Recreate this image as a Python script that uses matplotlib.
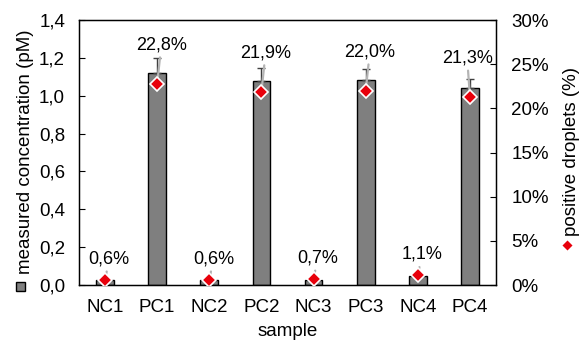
import matplotlib
matplotlib.use("Agg")
import matplotlib.pyplot as plt
from matplotlib.lines import Line2D
from matplotlib.patches import Rectangle
from matplotlib.ticker import FuncFormatter
import numpy as np

plt.rcParams['font.family'] = ['Liberation Sans', 'DejaVu Sans']

samples = ["NC1", "PC1", "NC2", "PC2", "NC3", "PC3", "NC4", "PC4"]
concentration = [0.026, 1.12, 0.026, 1.078, 0.028, 1.083, 0.05, 1.04]
conc_err = [0.005, 0.08, 0.005, 0.068, 0.005, 0.057, 0.004, 0.05]
positive_pct = [0.6, 22.8, 0.6, 21.9, 0.7, 22.0, 1.1, 21.3]
pct_labels = ["0,6%", "22,8%", "0,6%", "21,9%", "0,7%", "22,0%", "1,1%", "21,3%"]

FS = 13.5
fig = plt.figure(figsize=(5.79, 3.42), dpi=100)
ax = fig.add_axes([79/579, 1-285/342, (496-79)/579, (285-20)/342])
x = np.arange(len(samples))
ax.bar(x, concentration, width=0.34, color='#7f7f7f', edgecolor='black', linewidth=1.0, zorder=2)
ax.errorbar(x, concentration, yerr=[np.zeros(len(x)), conc_err], fmt='none',
            ecolor='#404040', elinewidth=1.0, capsize=3, capthick=1.0, zorder=3)
ax.set_ylim(0, 1.4)
ax.set_xlim(-0.5, len(samples) - 0.5)
ax.set_yticks(np.arange(0, 1.41, 0.2))
ax.yaxis.set_major_formatter(FuncFormatter(lambda v, p: f"{v:.1f}".replace('.', ',')))
ax.set_xticks(x)
ax.set_xticklabels(samples)
ax.tick_params(axis='y', direction='in', length=4, labelsize=FS, pad=10)
ax.tick_params(axis='x', length=0, labelsize=FS, pad=10)
for s in ax.spines.values():
    s.set_linewidth(1.0)
ax.set_xlabel("sample", fontsize=FS, labelpad=5)

ax2 = ax.twinx()
ax2.set_ylim(0, 30)
ax2.set_yticks(np.arange(0, 31, 5))
ax2.yaxis.set_major_formatter(FuncFormatter(lambda v, p: f"{v:.0f}%"))
ax2.tick_params(axis='y', direction='in', length=4, labelsize=FS, pad=11)
for i, (xi, yi, lab) in enumerate(zip(x, positive_pct, pct_labels)):
    off = 15 if yi < 5 else 28
    dx = 3 if i != 7 else -2
    ax2.annotate(lab, xy=(xi, yi), xytext=(dx, off), textcoords='offset points',
                 ha='center', va='center', fontsize=13, zorder=4,
                 arrowprops=dict(arrowstyle='-', color='#b4b4b4', lw=1.6,
                                 shrinkA=1, shrinkB=1))
ax2.plot(x, positive_pct, linestyle='none', marker='D', markersize=7.5,
         markerfacecolor='#e8000b', markeredgecolor='white', markeredgewidth=1.2, zorder=5)

# left y label with legend marker
fig.text(26/579, 1-152/342, "measured concentration (pM)", rotation=90, ha='center', va='center', fontsize=FS)
fig.add_artist(Rectangle((16/579, 1-291/342), 9/579, 9/342, transform=fig.transFigure,
                         facecolor='#7f7f7f', edgecolor='black', linewidth=1.0))
# right y label with legend marker
fig.text(571/579, 1-152/342, "positive droplets (%)", rotation=90, ha='center', va='center', fontsize=FS)
fig.add_artist(Line2D([567/579], [1-245/342], transform=fig.transFigure, marker='D',
                      markersize=6, markerfacecolor='#e8000b', markeredgecolor='white', linestyle='none'))

fig.savefig("out.png", dpi=100)
